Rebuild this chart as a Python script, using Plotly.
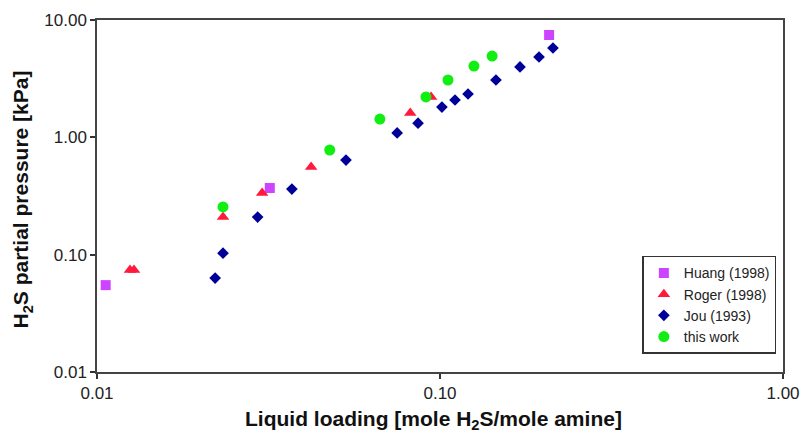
import plotly.graph_objects as go

# Data
huang_x = [0.0106, 0.0319, 0.208]
huang_y = [0.055, 0.370, 7.45]

roger_x = [0.01248, 0.01282, 0.0233, 0.0303, 0.0421, 0.0819, 0.0942]
roger_y = [0.074, 0.074, 0.209, 0.335, 0.558, 1.61, 2.21]

jou_x = [0.0221, 0.0233, 0.0294, 0.0370, 0.0532, 0.0750, 0.0863, 0.1013,
         0.1106, 0.1207, 0.1456, 0.1711, 0.1944, 0.2135]
jou_y = [0.0632, 0.103, 0.209, 0.362, 0.640, 1.09, 1.32, 1.81,
         2.08, 2.34, 3.08, 3.98, 4.84, 5.77]

this_x = [0.0233, 0.0477, 0.0668, 0.0910, 0.1055, 0.1256, 0.1419]
this_y = [0.255, 0.780, 1.43, 2.21, 3.08, 4.05, 4.93]

x_tickvals = [0.01, 0.1, 1.0]
x_ticktext = ["0.01", "0.10", "1.00"]
y_tickvals = [0.01, 0.1, 1.0, 10.0]
y_ticktext = ["0.01", "0.10", "1.00", "10.00"]

x_title = "<b>Liquid loading [mole H<sub>2</sub>S/mole amine]</b>"
y_title = "<b>H<sub>2</sub>S partial pressure [kPa]</b>"

fig = go.Figure()
fig.add_trace(go.Scatter(x=huang_x, y=huang_y, mode="markers", name="Huang (1998)",
                         marker=dict(symbol="square", size=10, color="#CC44FF")))
fig.add_trace(go.Scatter(x=roger_x, y=roger_y, mode="markers", name="Roger (1998)",
                         marker=dict(symbol="triangle-up", size=11, color="#FF1A3C")))
fig.add_trace(go.Scatter(x=jou_x, y=jou_y, mode="markers", name="Jou (1993)",
                         marker=dict(symbol="diamond", size=9, color="#000099")))
fig.add_trace(go.Scatter(x=this_x, y=this_y, mode="markers", name="this work",
                         marker=dict(symbol="circle", size=11, color="#11EE11")))

font_family = "Liberation Sans, Arial, sans-serif"

fig.update_layout(
    width=801, height=433,
    margin=dict(l=97, r=18, t=20, b=61, autoexpand=False),
    paper_bgcolor="white", plot_bgcolor="white",
    font=dict(family=font_family, size=17, color="#222222"),
    showlegend=True,
    legend=dict(x=0.795, y=0.33, xanchor="left", yanchor="top",
                bgcolor="white", bordercolor="#333333", borderwidth=1.5,
                font=dict(size=14, color="#222222"), itemwidth=30,
                tracegroupgap=0),
    xaxis=dict(type="log", range=[-2, 0], tickvals=x_tickvals, ticktext=x_ticktext,
               showgrid=False, zeroline=False, showline=True, linecolor="#444444",
               linewidth=1.5, mirror=True, ticks="outside", ticklen=5, tickwidth=1.5,
               tickcolor="#333333", tickfont=dict(size=17), automargin=False),
    yaxis=dict(type="log", range=[-2, 1], tickvals=y_tickvals, ticktext=y_ticktext,
               showgrid=False, zeroline=False, showline=True, linecolor="#444444",
               linewidth=1.5, mirror=True, ticks="outside", ticklen=5, tickwidth=1.5,
               tickcolor="#333333", tickfont=dict(size=17), automargin=False),
    annotations=[
        dict(text=x_title, xref="paper", yref="paper", x=0.49, y=0, yshift=-48,
             xanchor="center", yanchor="middle", showarrow=False,
             font=dict(size=21, color="#111111")),
        dict(text=y_title, xref="paper", yref="paper", x=0, xshift=-75, y=0.49,
             xanchor="center", yanchor="middle", showarrow=False, textangle=-90,
             font=dict(size=21, color="#111111")),
    ],
)

fig.write_html("out.html", config={"displayModeBar": False},
               post_script="document.body.style.margin='0';document.body.style.padding='0';")
